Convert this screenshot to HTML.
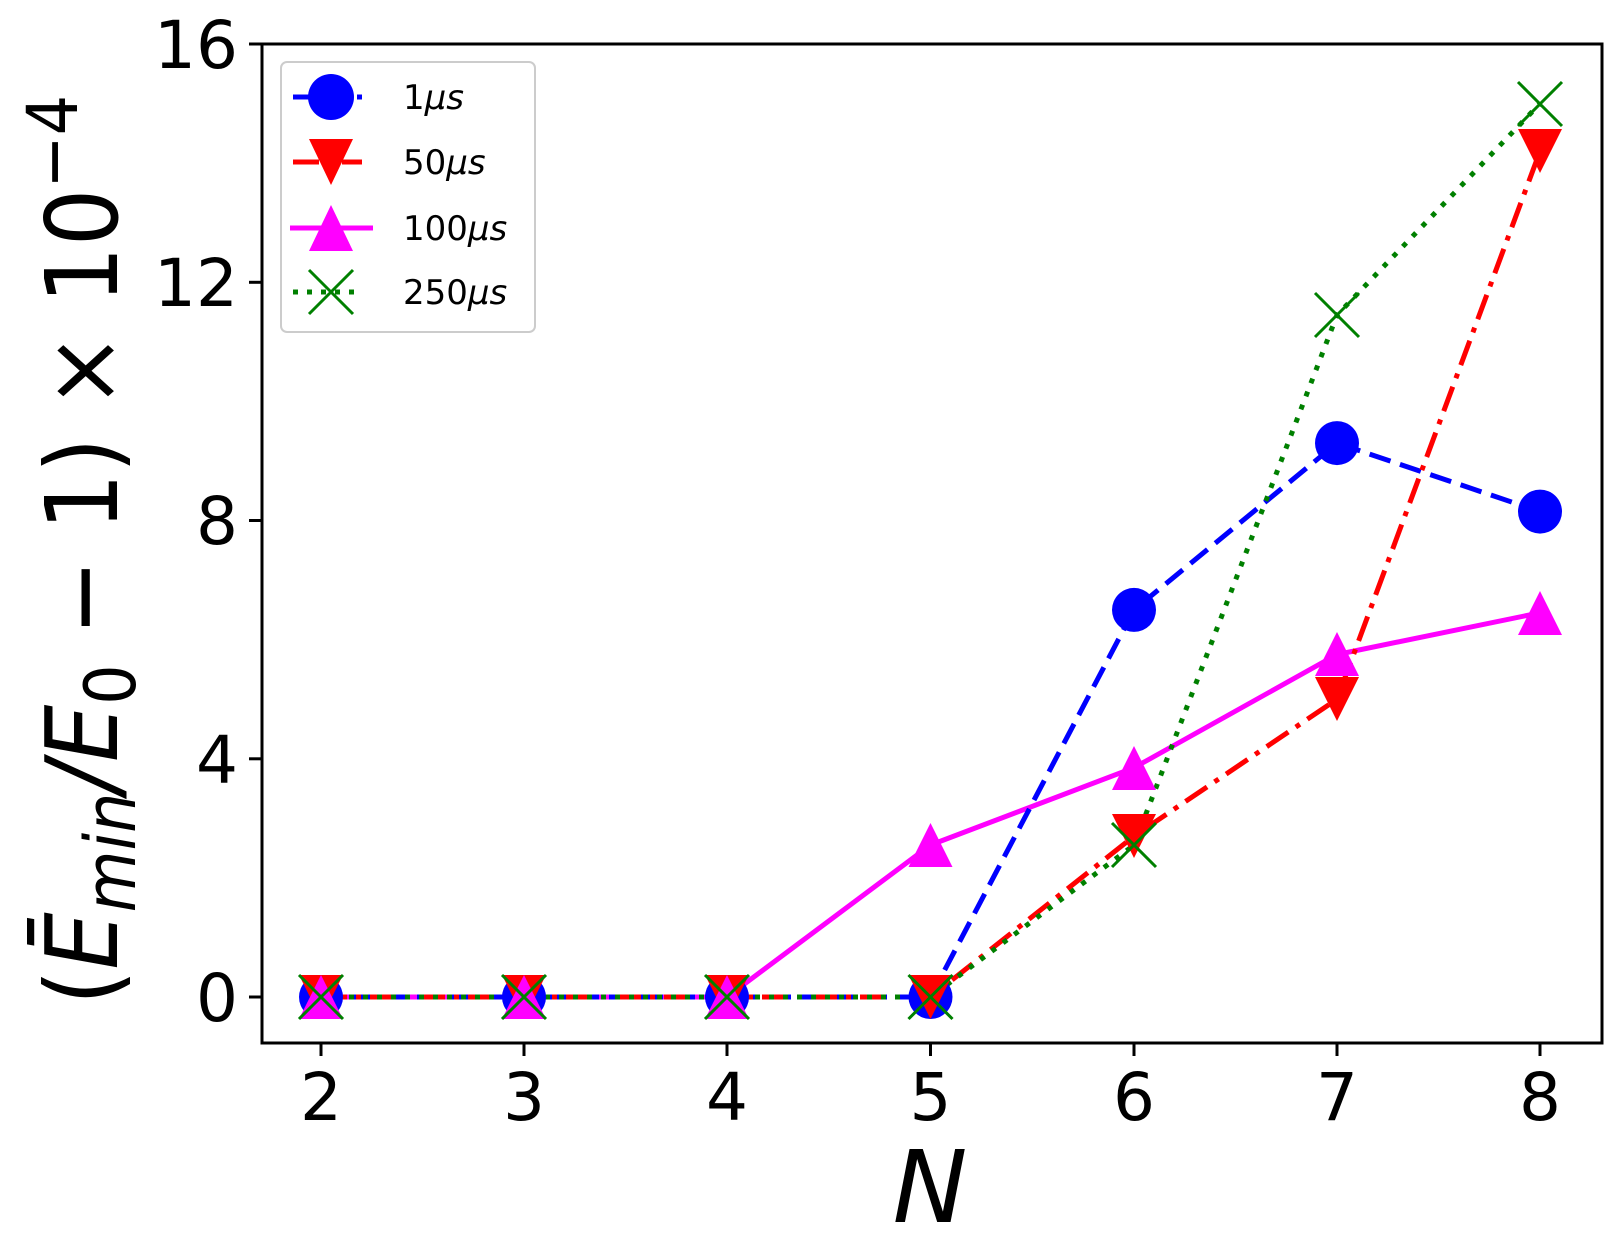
<!DOCTYPE html>
<html><head><meta charset="utf-8"><style>body{margin:0;background:#fff}svg{display:block}</style></head>
<body>
<svg width="1621" height="1244" viewBox="0 0 1621 1244" xmlns="http://www.w3.org/2000/svg" font-family="'DejaVu Sans','Liberation Sans',sans-serif">
<rect width="1621" height="1244" fill="#fff"/>
<!-- ticks -->
<g stroke="#000" stroke-width="3">
<line x1="321" y1="1043" x2="321" y2="1056"/><line x1="524" y1="1043" x2="524" y2="1056"/><line x1="727" y1="1043" x2="727" y2="1056"/><line x1="930.5" y1="1043" x2="930.5" y2="1056"/><line x1="1134" y1="1043" x2="1134" y2="1056"/><line x1="1337" y1="1043" x2="1337" y2="1056"/><line x1="1540" y1="1043" x2="1540" y2="1056"/>
<line x1="249" y1="997" x2="262" y2="997"/><line x1="249" y1="758.8" x2="262" y2="758.8"/><line x1="249" y1="520.5" x2="262" y2="520.5"/><line x1="249" y1="282.3" x2="262" y2="282.3"/><line x1="249" y1="44" x2="262" y2="44"/>
</g>
<g font-size="66" text-anchor="middle" fill="#000">
<text x="321" y="1120">2</text><text x="524" y="1120">3</text><text x="727" y="1120">4</text><text x="930.5" y="1120">5</text><text x="1134" y="1120">6</text><text x="1337" y="1120">7</text><text x="1540" y="1120">8</text>
</g>
<g font-size="66" text-anchor="end" fill="#000">
<text x="238" y="1021">0</text><text x="238" y="783">4</text><text x="238" y="544">8</text><text x="238" y="306">12</text><text x="238" y="68">16</text>
</g>
<text x="930" y="1222" font-size="100" font-style="italic" text-anchor="middle">N</text>
<text transform="translate(117,550) rotate(-90)" font-size="100" text-anchor="middle" textLength="910" lengthAdjust="spacingAndGlyphs">(<tspan font-style="italic">Ē</tspan><tspan font-style="italic" font-size="70" dy="18">min</tspan><tspan dy="-18" font-style="italic">/E</tspan><tspan font-size="70" dy="18">0</tspan><tspan dy="-18"> − 1) × 10</tspan><tspan font-size="70" dy="-40">−4</tspan></text>
<!-- series -->
<g fill="none" stroke-width="5">
<polyline stroke="#ff00ff" points="321,997 524,997 727,997 930.5,845 1134,767.7 1337,654.5 1540,612.8"/>
<polyline stroke="#0000ff" stroke-dasharray="22,10" points="321,997 524,997 727,997 930.5,997 1134,609.9 1337,443.1 1540,511.6"/>
<polyline stroke="#ff0000" stroke-dasharray="26,9,5,9" points="321,997 524,997 727,997 930.5,997 1134,836.2 1337,699.2 1540,151.2"/>
<polyline stroke="#008000" stroke-dasharray="5,9" points="321,997 524,997 727,997 930.5,997 1134,845.1 1337,315.1 1540,103.6"/>
</g>
<g fill="#0000ff">
<circle cx="321" cy="997" r="22"/><circle cx="524" cy="997" r="22"/><circle cx="727" cy="997" r="22"/><circle cx="930.5" cy="997" r="22"/><circle cx="1134" cy="609.9" r="22"/><circle cx="1337" cy="443.1" r="22"/><circle cx="1540" cy="511.6" r="22"/>
</g>
<g fill="#ff0000">
<path d="M299,975h44l-22,44z"/><path d="M502,975h44l-22,44z"/><path d="M705,975h44l-22,44z"/><path d="M908.5,975h44l-22,44z"/><path d="M1112,814h44l-22,44z"/><path d="M1315,677h44l-22,44z"/><path d="M1518,129h44l-22,44z"/>
</g>
<g fill="#ff00ff">
<path d="M299,1019h44l-22,-44z"/><path d="M502,1019h44l-22,-44z"/><path d="M705,1019h44l-22,-44z"/><path d="M908.5,867h44l-22,-44z"/><path d="M1112,790h44l-22,-44z"/><path d="M1315,676h44l-22,-44z"/><path d="M1518,635h44l-22,-44z"/>
</g>
<g stroke="#008000" stroke-width="3">
<path d="M299,975l44,44M343,975l-44,44"/><path d="M502,975l44,44M546,975l-44,44"/><path d="M705,975l44,44M749,975l-44,44"/><path d="M908.5,975l44,44M952.5,975l-44,44"/><path d="M1112,823l44,44M1156,823l-44,44"/><path d="M1315,293l44,44M1359,293l-44,44"/><path d="M1518,82l44,44M1562,82l-44,44"/>
</g>
<!-- axes frame -->
<rect x="262" y="44" width="1340" height="999" fill="none" stroke="#000" stroke-width="3"/>
<!-- legend -->
<rect x="281" y="62" width="254" height="270" rx="6" fill="#fff" fill-opacity="0.8" stroke="#ccc" stroke-width="2"/>
<line x1="293" y1="97" x2="362" y2="97" stroke="#0000ff" stroke-width="5" stroke-dasharray="22,10"/>
<circle cx="331" cy="97" r="23" fill="#0000ff"/>
<line x1="293" y1="162" x2="362" y2="162" stroke="#ff0000" stroke-width="5" stroke-dasharray="26,9,5,9"/>
<path d="M309,139h44l-22,46z" fill="#ff0000"/>
<line x1="290" y1="228" x2="373" y2="228" stroke="#ff00ff" stroke-width="5"/>
<path d="M309,251h44l-22,-46z" fill="#ff00ff"/>
<line x1="293" y1="292" x2="362" y2="292" stroke="#008000" stroke-width="5" stroke-dasharray="5,9"/>
<path d="M309,270l44,44M353,270l-44,44" stroke="#008000" stroke-width="3"/>
<g font-size="34" fill="#000">
<text x="403" y="109">1<tspan font-style="italic">μs</tspan></text>
<text x="403" y="174">50<tspan font-style="italic">μs</tspan></text>
<text x="403" y="240">100<tspan font-style="italic">μs</tspan></text>
<text x="403" y="304">250<tspan font-style="italic">μs</tspan></text>
</g>
</svg>
</body></html>
